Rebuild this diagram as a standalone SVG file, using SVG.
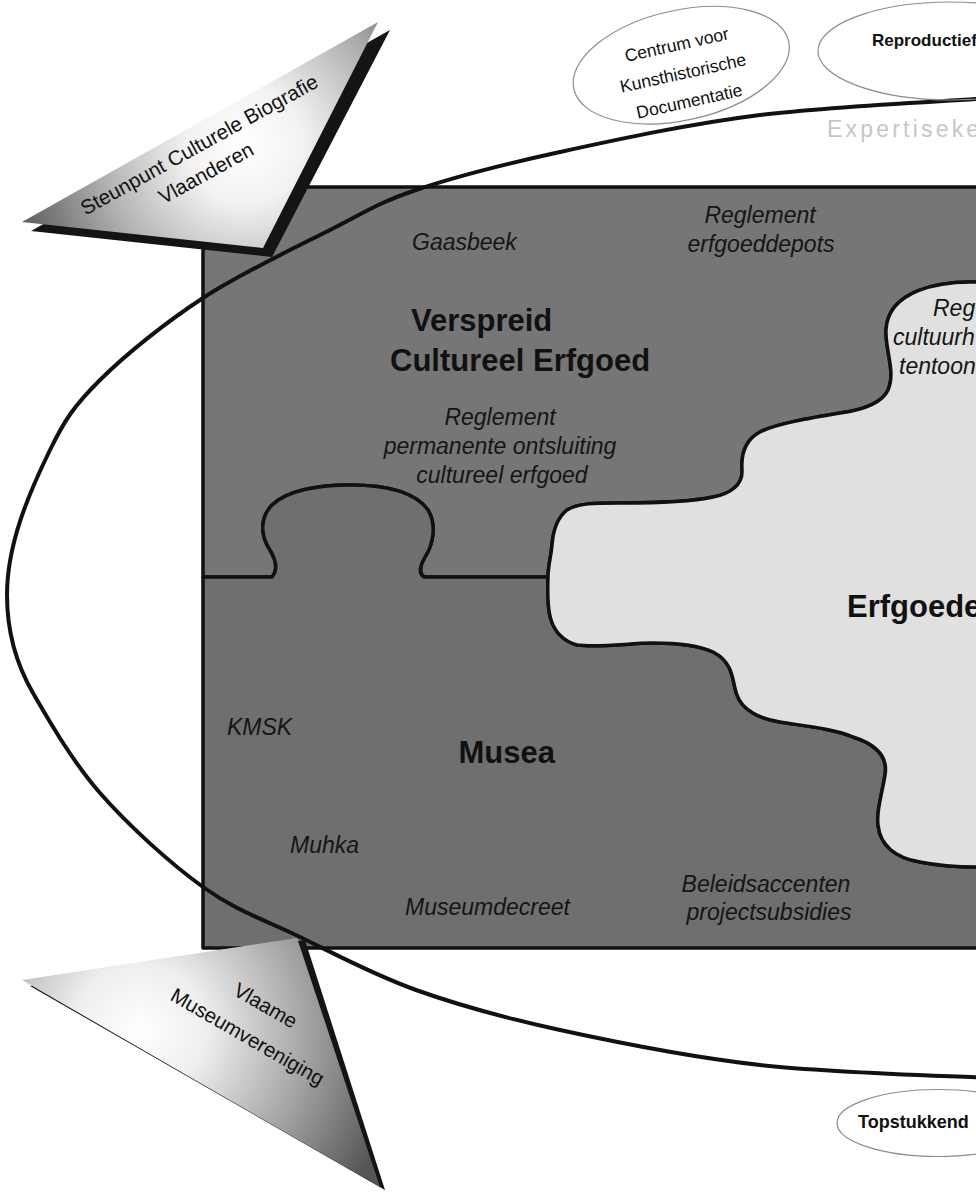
<svg xmlns="http://www.w3.org/2000/svg" width="976" height="1192" viewBox="0 0 976 1192">
<defs>
<style>
.piece{stroke:#111;stroke-width:3.5;stroke-linejoin:round}
.lab{font-family:"Liberation Sans",Arial,Helvetica,sans-serif;font-style:italic;font-size:23px;fill:#151515}
.title{font-family:"Liberation Sans",Arial,Helvetica,sans-serif;font-weight:bold;font-size:31px;fill:#111}
.tri{font-family:"Liberation Sans",Arial,Helvetica,sans-serif;font-size:20.5px;fill:#111}
.ovaltxt{font-family:"Liberation Sans",Arial,Helvetica,sans-serif;font-size:17.5px;fill:#111}
.boldtxt{font-family:"Liberation Sans",Arial,Helvetica,sans-serif;font-weight:bold;fill:#111}
.oval{fill:none;stroke:#8c8c8c;stroke-width:1.2}
.shadow{fill:#141414}
</style>
<radialGradient id="gTop" gradientUnits="userSpaceOnUse" cx="245" cy="145" r="235">
<stop offset="0" stop-color="#ffffff"/>
<stop offset="0.25" stop-color="#f2f2f2"/>
<stop offset="0.6" stop-color="#b4b4b4"/>
<stop offset="1" stop-color="#5e5e5e"/>
</radialGradient>
<radialGradient id="gBot" gradientUnits="userSpaceOnUse" cx="140" cy="1030" r="265">
<stop offset="0" stop-color="#ffffff"/>
<stop offset="0.25" stop-color="#eeeeee"/>
<stop offset="0.65" stop-color="#a0a0a0"/>
<stop offset="1" stop-color="#555555"/>
</radialGradient>
</defs>
<rect width="976" height="1192" fill="#ffffff"/>

<g id="verspreid">
<path class="piece" fill="#767676" d="M203,187 H990 V282 H976 C940,281 888,290 886,330 C885,350 896,372 888,390 C882,403 862,410 840,413 C810,418 775,424 760,432 C745,440 741,455 742,470 C743,485 730,494 713,497 C690,502 650,503 620,503 C595,503 578,503 567,510 C557,518 553,532 552,545 C551,556 548,567 548,577 H424 C418,573 420,566 425,557 C433,545 437,525 428,510 C415,492 385,485 350,485 C320,485 288,490 272,505 C258,520 262,538 270,550 C276,560 278,570 272,577 H203 Z"/>
<text class="title" x="411" y="331">Verspreid</text>
<text class="title" x="390" y="371">Cultureel Erfgoed</text>
<text class="lab" x="412" y="250">Gaasbeek</text>
<text class="lab" x="760" y="223" text-anchor="middle">Reglement</text>
<text class="lab" x="761" y="252" text-anchor="middle">erfgoeddepots</text>
<text class="lab" x="500" y="425" text-anchor="middle">Reglement</text>
<text class="lab" x="500" y="454" text-anchor="middle">permanente ontsluiting</text>
<text class="lab" x="502" y="483" text-anchor="middle">cultureel erfgoed</text>
</g>

<g id="musea">
<path class="piece" fill="#6f6f6f" d="M203,948 V577 H272 C278,570 276,560 270,550 C262,538 258,520 272,505 C288,490 320,485 350,485 C385,485 415,492 428,510 C437,525 433,545 425,557 C420,566 418,573 424,577 H548 C547,605 546,636 577,645 C600,648 630,643 653,643 C675,643 698,645 713,652 C735,663 732,683 737,695 C742,710 760,719 780,722 C805,726 835,729 853,737 C878,745 888,758 885,775 C882,795 876,810 878,825 C880,845 895,858 920,862 C940,866 960,867 976,867 H990 V948 Z"/>
<text class="title" x="555" y="763" text-anchor="end">Musea</text>
<text class="lab" x="227" y="735">KMSK</text>
<text class="lab" x="290" y="853">Muhka</text>
<text class="lab" x="405" y="915">Museumdecreet</text>
<text class="lab" x="766" y="892" text-anchor="middle">Beleidsaccenten</text>
<text class="lab" x="769" y="920" text-anchor="middle">projectsubsidies</text>
</g>

<g id="erfgoed">
<path class="piece" fill="#e0e0e0" d="M976,282 C940,281 888,290 886,330 C885,350 896,372 888,390 C882,403 862,410 840,413 C810,418 775,424 760,432 C745,440 741,455 742,470 C743,485 730,494 713,497 C690,502 650,503 620,503 C595,503 578,503 567,510 C557,518 553,532 552,545 C551,556 548,567 548,577 C547,605 546,636 577,645 C600,648 630,643 653,643 C675,643 698,645 713,652 C735,663 732,683 737,695 C742,710 760,719 780,722 C805,726 835,729 853,737 C878,745 888,758 885,775 C882,795 876,810 878,825 C880,845 895,858 920,862 C940,866 960,867 976,867 H990 V282 Z"/>
<text class="title" x="847" y="617">Erfgoede</text>
<text class="lab" x="933" y="316">Reg</text>
<text class="lab" x="893" y="345">cultuurh</text>
<text class="lab" x="899" y="374">tentoon</text>
</g>

<g id="expertise">
<path fill="none" stroke="#111" stroke-width="4" stroke-linecap="round" d="M990,98 C952,101 831.7,106 760,115 C688.3,124 617.3,139.5 560,152 C502.7,164.5 454.3,177 416,190 C377.7,203 365.5,212 330,230 C294.5,248 241.3,273 203,298 C164.7,323 125.5,354.7 100,380 C74.5,405.3 64.5,420 50,450 C28,495 7,545 7,595 C7,635 18.5,668 33,693 C47.5,718 71.7,760.7 100,793 C128.3,825.3 169.7,863 203,887 C236.3,911 264.5,919.8 300,937 C335.5,954.2 372.7,974.5 416,990 C459.3,1005.5 502.7,1017.5 560,1030 C617.3,1042.5 688.3,1057 760,1065 C831.7,1073 952,1076 990,1078"/>
<text x="827" y="137" font-family="Liberation Sans, Arial, sans-serif" font-size="23" letter-spacing="3.2" fill="#c6c6c6">Expertiseke</text>
</g>

<g id="centrum" transform="translate(683,73) rotate(-12.5)">
<ellipse class="oval" cx="0" cy="-8" rx="110" ry="55"/>
<text class="ovaltxt" x="0" y="-23" text-anchor="middle">Centrum voor</text>
<text class="ovaltxt" x="0" y="6" text-anchor="middle">Kunsthistorische</text>
<text class="ovaltxt" x="0" y="35" text-anchor="middle">Documentatie</text>
</g>

<g id="reproductief">
<ellipse class="oval" cx="951" cy="51" rx="133" ry="49"/>
<text class="boldtxt" x="872" y="46" font-size="17">Reproductief</text>
</g>

<g id="topstukken">
<ellipse class="oval" cx="938" cy="1123" rx="101" ry="33.5"/>
<text class="boldtxt" x="858" y="1128" font-size="18">Topstukkend</text>
</g>

<g id="steunpunt">
<polygon class="shadow" points="31,231 390,30 272,257"/>
<polygon fill="url(#gTop)" points="22,222 378,22 263,248"/>
<g transform="translate(206,165) rotate(-29)">
<text class="tri" x="4" y="-14" text-anchor="middle">Steunpunt Culturele Biografie</text>
<text class="tri" x="-4" y="14" text-anchor="middle">Vlaanderen</text>
</g>
</g>

<g id="museumvereniging">
<polygon class="shadow" points="30,986 305,940 385,1190"/>
<polygon fill="url(#gBot)" points="22,980 297,938 380,1187"/>
<g transform="translate(256,1022) rotate(30)">
<text class="tri" x="0" y="-12" text-anchor="middle">Vlaame</text>
<text class="tri" x="0" y="24" text-anchor="middle">Museumvereniging</text>
</g>
</g>

<g id="connectors"/>
</svg>
